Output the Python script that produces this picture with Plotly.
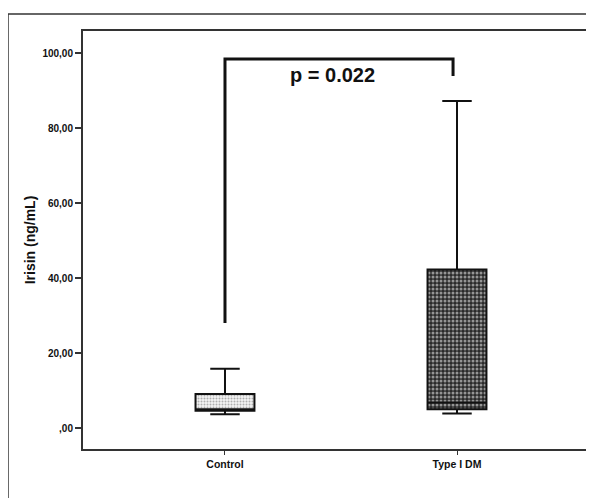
import plotly.graph_objects as go

categories = ["Control", "Type I DM"]
q1 = [4.6, 5.0]
median = [5.0, 6.8]
q3 = [9.1, 42.3]
lower_whisker = [3.7, 3.9]
upper_whisker = [15.8, 87.2]

y_tick_vals = [0, 20, 40, 60, 80, 100]
y_tick_text = [",00", "20,00", "40,00", "60,00", "80,00", "100,00"]

bracket_left_y = 28.0
bracket_top_y = 98.4
bracket_right_y = 93.9
p_text = "p = 0.022"

FONT = "Liberation Sans, Arial, sans-serif"
pos = list(range(len(categories)))
BOXW = 0.254

fig = go.Figure()

patterns = [
    dict(shape=".", fgcolor="#6a6a6a", bgcolor="#f2f2f2", size=3, solidity=0.35),
    dict(shape=".", fgcolor="#ffffff", bgcolor="#2a2a2a", size=4, solidity=0.45),
]
for i in pos:
    fig.add_trace(go.Bar(
        x=[i], y=[q3[i] - q1[i]], base=[q1[i]], width=BOXW,
        marker=dict(color="#ffffff", pattern=patterns[i], line=dict(width=0)),
        showlegend=False, hoverinfo="skip",
    ))

for i in pos:
    fig.add_trace(go.Box(
        x=[i], q1=[q1[i]], median=[median[i]], q3=[q3[i]],
        lowerfence=[lower_whisker[i]], upperfence=[upper_whisker[i]],
        width=BOXW, whiskerwidth=0.5, boxpoints=False,
        fillcolor="rgba(0,0,0,0)", line=dict(color="#111111", width=2),
        showlegend=False,
    ))

fig.add_trace(go.Scatter(
    x=[pos[0], pos[0], pos[1] - 0.017, pos[1] - 0.017],
    y=[bracket_left_y, bracket_top_y, bracket_top_y, bracket_right_y],
    mode="lines", line=dict(color="#111111", width=3),
    showlegend=False, hoverinfo="skip",
))

fig.add_annotation(
    x=0.463, y=94.1, xref="x", yref="y", text="<b>%s</b>" % p_text,
    showarrow=False, font=dict(family=FONT, size=20, color="#111111"),
    xanchor="center", yanchor="middle",
)

# outer frame (top and left visible)
fig.add_shape(type="line", xref="paper", yref="paper",
              x0=-0.1468, x1=1.2, y0=1.0407, y1=1.0407,
              line=dict(color="#333333", width=1.5))
fig.add_shape(type="line", xref="paper", yref="paper",
              x0=-0.1468, x1=-0.1468, y0=1.0407, y1=-0.3,
              line=dict(color="#333333", width=1.5))

fig.update_layout(
    width=586, height=490,
    margin=dict(l=75, r=0, t=23, b=49),
    plot_bgcolor="white", paper_bgcolor="white",
    barmode="overlay", boxmode="overlay",
    font=dict(family=FONT, color="#111111"),
    showlegend=False,
)
fig.update_xaxes(
    range=[-0.612, 1.5905], tickvals=pos,
    ticktext=["<b>%s</b>" % c for c in categories],
    tickfont=dict(size=10.5, family=FONT, color="#111111"),
    ticks="outside", ticklen=4, tickwidth=1, tickcolor="#333333",
    showline=True, linecolor="#333333", linewidth=2, mirror=True,
    showgrid=False, zeroline=False,
)
fig.update_yaxes(
    range=[-5.6, 105.9], tickvals=y_tick_vals,
    ticktext=["<b>%s</b>" % t for t in y_tick_text],
    tickfont=dict(size=10, family=FONT, color="#111111"),
    ticks="outside", ticklen=6, tickwidth=1.5, tickcolor="#333333",
    showline=True, linecolor="#333333", linewidth=2, mirror=False,
    showgrid=False, zeroline=False,
    title=dict(text="<b>Irisin (ng/mL)</b>", font=dict(size=14, family=FONT, color="#111111"), standoff=4),
)

fig.write_html("out.html")
